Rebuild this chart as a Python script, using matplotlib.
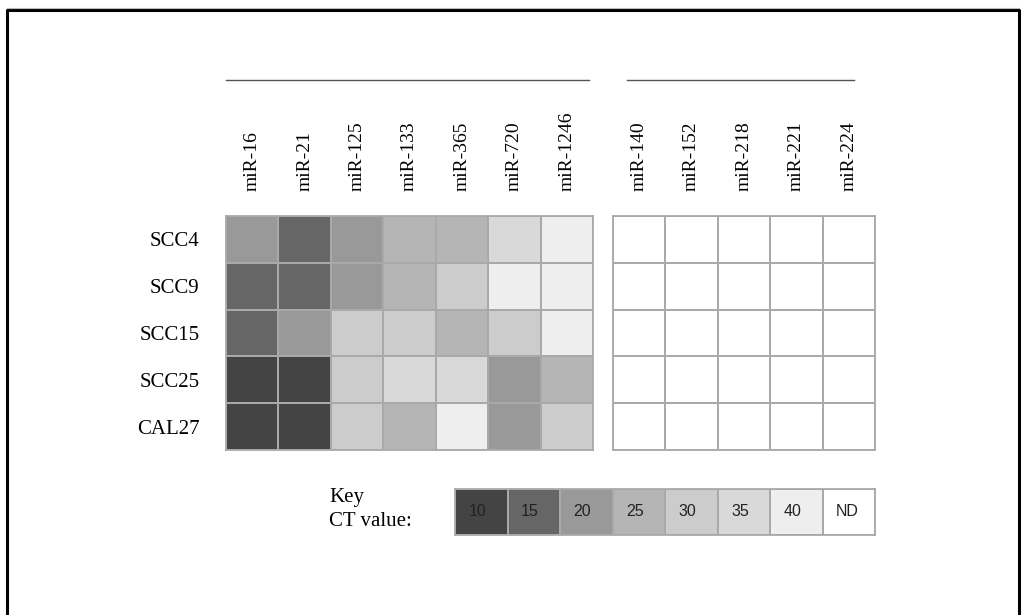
import numpy as np
import matplotlib
matplotlib.use("Agg")
import matplotlib.pyplot as plt
from matplotlib.colors import ListedColormap, BoundaryNorm
from matplotlib.lines import Line2D

# Cell lines (rows) and miRNAs (columns)
cell_lines = ["SCC4", "SCC9", "SCC15", "SCC25", "CAL27"]
detected_mirs = ["miR-16", "miR-21", "miR-125", "miR-133", "miR-365", "miR-720", "miR-1246"]
undetected_mirs = ["miR-140", "miR-152", "miR-218", "miR-221", "miR-224"]

# CT values for the detected miRNAs
ct_scc4 = [20, 15, 20, 25, 25, 35, 40]
ct_scc9 = [15, 15, 20, 25, 30, 40, 40]
ct_scc15 = [15, 20, 30, 30, 25, 30, 40]
ct_scc25 = [10, 10, 30, 35, 35, 20, 25]
ct_cal27 = [10, 10, 30, 25, 40, 20, 30]

# Key levels (ND = not detected)
key_levels = [10, 15, 20, 25, 30, 35, 40]
key_labels = ["10", "15", "20", "25", "30", "35", "40", "ND"]
key_colors = ["#444444", "#666666", "#999999", "#b5b5b5", "#cccccc", "#d9d9d9", "#eeeeee"]

detected = np.array([ct_scc4, ct_scc9, ct_scc15, ct_scc25, ct_cal27], dtype=float)
undetected = np.full((len(cell_lines), len(undetected_mirs)), np.nan)

cmap = ListedColormap(key_colors)
cmap.set_bad("white")
bounds = [7.5] + [v + 2.5 for v in key_levels]
norm = BoundaryNorm(bounds, cmap.N)

W, H = 1024, 615
fig = plt.figure(figsize=(W / 100, H / 100), dpi=100)
fig.patch.set_facecolor("white")

serif = ["Liberation Serif", "DejaVu Serif"]
sans = ["Liberation Sans", "DejaVu Sans"]
grid_col = "#a9a9a9"


def fig_axes(x0, y0, x1, y1):
    return fig.add_axes([x0 / W, 1 - y1 / H, (x1 - x0) / W, (y1 - y0) / H])


def draw_block(ax, data, cols, rows=None):
    ax.pcolormesh(np.ma.masked_invalid(data), cmap=cmap, norm=norm,
                  edgecolors=grid_col, linewidth=1.3)
    ax.set_xlim(0, data.shape[1])
    ax.set_ylim(data.shape[0], 0)
    ax.xaxis.tick_top()
    ax.set_xticks(np.arange(len(cols)) + 0.5)
    ax.set_xticklabels(cols, rotation=90, family=serif, fontsize=14)
    ax.tick_params(axis="x", length=0, pad=18)
    if rows is not None:
        ax.set_yticks(np.arange(len(rows)) + 0.5)
        ax.set_yticklabels(rows, family=serif, fontsize=15)
        ax.tick_params(axis="y", length=0, pad=19)
    else:
        ax.set_yticks([])
    for s in ax.spines.values():
        s.set_color(grid_col)
        s.set_linewidth(1.3)


ax_left = fig_axes(226, 216, 593, 450)
draw_block(ax_left, detected, detected_mirs, cell_lines)
ax_left.plot([0, 0.99], [1.58, 1.58], transform=ax_left.transAxes,
             color="#555555", lw=1.0, clip_on=False)

ax_right = fig_axes(613, 216, 875, 450)
draw_block(ax_right, undetected, undetected_mirs)
ax_right.plot([0.053, 0.92], [1.58, 1.58], transform=ax_right.transAxes,
              color="#555555", lw=1.0, clip_on=False)

# Colour key
ax_key = fig_axes(455, 489, 875, 535)
key_vals = np.array([key_levels + [np.nan]], dtype=float)
ax_key.pcolormesh(np.ma.masked_invalid(key_vals), cmap=cmap, norm=norm,
                  edgecolors=grid_col, linewidth=1.3)
ax_key.set_xlim(0, key_vals.shape[1])
ax_key.set_ylim(1, 0)
ax_key.set_xticks([])
ax_key.set_yticks([])
for s in ax_key.spines.values():
    s.set_color(grid_col)
    s.set_linewidth(1.3)
for i, lab in enumerate(key_labels):
    ax_key.text(i + 0.26, 0.5, lab, ha="left", va="center",
                family=sans, fontsize=11.5, color="#222222")

fig.text(329 / W, 1 - 502 / H, "Key", family=serif, fontsize=15,
         ha="left", va="baseline")
fig.text(329 / W, 1 - 526 / H, "CT value:", family=serif, fontsize=15,
         ha="left", va="baseline")

# Outer frame
fig.add_artist(Line2D([7 / W, 7 / W, 1019 / W, 1019 / W],
                      [0, 1 - 10 / H, 1 - 10 / H, 0],
                      transform=fig.transFigure, color="black", lw=2.2))
fig.add_artist(Line2D([7 / W, 1019 / W], [1 - 8 / H, 1 - 8 / H],
                      transform=fig.transFigure, color="#bbbbbb", lw=0.8))

fig.savefig("out.png", dpi=100, facecolor="white")
